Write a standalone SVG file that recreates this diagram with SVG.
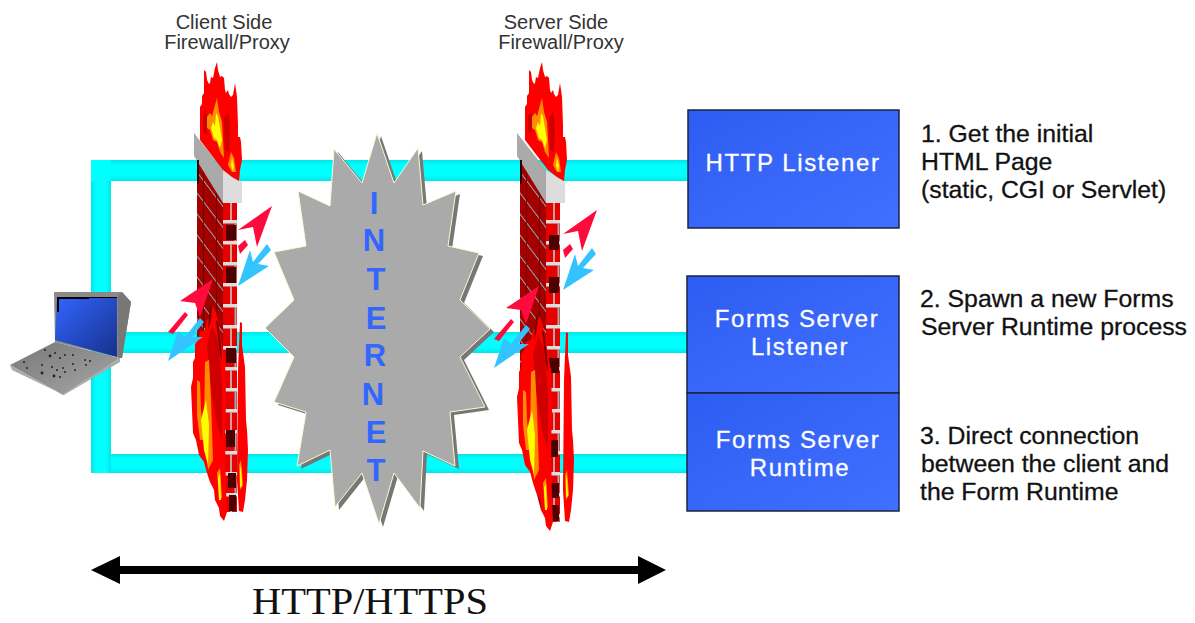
<svg xmlns="http://www.w3.org/2000/svg" width="1195" height="623" viewBox="0 0 1195 623">
<style>
.sans{font-family:"Liberation Sans",Arial,sans-serif}
.cap{font-size:20px;fill:#333;text-anchor:middle}
.note{font-size:24.8px;fill:#111;stroke:#111;stroke-width:.3px}
.lbl{font-size:24px;fill:#fff;text-anchor:middle;letter-spacing:1.6px;stroke:#fff;stroke-width:.3px}
.box{fill:url(#boxg);stroke:#1c2440;stroke-width:1.5}
.red{fill:#f00}.dred{fill:#d00000}.org{fill:#ff8c00}.yel{fill:#ff0}
.ra{fill:#ff0a3c}.ba{fill:#33c4ff}
</style>
<defs>
<linearGradient id="hbar" x1="0" y1="0" x2="0" y2="1"><stop offset="0" stop-color="#00e6e6"/><stop offset=".25" stop-color="#0ff"/><stop offset=".75" stop-color="#0ff"/><stop offset="1" stop-color="#00e6e6"/></linearGradient>
<linearGradient id="vbar" x1="0" y1="0" x2="1" y2="0"><stop offset="0" stop-color="#00e6e6"/><stop offset=".25" stop-color="#0ff"/><stop offset=".75" stop-color="#0ff"/><stop offset="1" stop-color="#00e6e6"/></linearGradient>
<linearGradient id="boxg" x1="0" y1="0" x2="1" y2="1"><stop offset="0" stop-color="#2e5cf2"/><stop offset="1" stop-color="#4070ff"/></linearGradient>
<linearGradient id="scr" x1="0" y1="0" x2="1" y2="1"><stop offset="0" stop-color="#3366ff"/><stop offset="1" stop-color="#16308c"/></linearGradient>
<linearGradient id="kbd" x1="0" y1="0" x2="1" y2="1"><stop offset="0" stop-color="#777"/><stop offset="1" stop-color="#a8a8a8"/></linearGradient>
<pattern id="front" patternUnits="userSpaceOnUse" x="223" y="199" width="14" height="42">
<rect width="14" height="42" fill="#e60000"/><rect y="0" width="14" height="3.5" fill="#ddd"/><rect y="21" width="14" height="3.5" fill="#ddd"/>
<rect x="7" y="3" width="2" height="18" fill="#c8a0a0"/><rect x="11.5" y="24" width="2" height="18" fill="#aaa"/>
</pattern>
<pattern id="side" patternUnits="userSpaceOnUse" width="13" height="21" patternTransform="translate(197 150) skewY(53)">
<rect width="13" height="21" fill="#a50000"/><rect width="13" height="2" fill="#8c8c8c"/><rect x="6" width="1" height="21" fill="#6e0000"/>
</pattern>
<g id="cap">
<polygon points="194,133 223,170 223,203 194,156" fill="#aaa"/>
<polygon points="223,170 242,182 242,203 223,203" fill="#ddd"/>
<rect x="197" y="160" width="2" height="24" fill="#300"/>
</g>
<g id="flameTop">
<polygon class="red" points="200,140 200,107 202,104 202,96 204,93 204,70 206,72 207,80 209,84 210,83 211,77 213,78 215,68 217,62 218,70 220,77 222,76 224,78 225,90 226,93 228,90 229,94 231,97 233,95 235,83 236,90 237,97 238,125 238,137 240,137 241,142 242,160 240,170 239,181 232,177 223,170"/>
<polygon class="dred" points="203,116 206,110 208,125 206,135 203,130"/>
<polygon class="dred" points="224,118 228,112 230,125 229,152 225,150"/>
<polygon class="org" points="207,117 210,113 212,116 215,105 217,98 219,112 222,122 223,140 224,158 220,152 217,142 213,140 210,130 207,128"/>
<polygon class="yel" points="211,128 213,122 215,126 216,113 218,116 220,128 222,140 220,148 217,140 214,138"/>
<polygon class="org" points="228,165 231,152 234,158 236,172 232,172"/>
<polygon class="yel" points="231,165 232,158 234,166 233,172"/>
</g>
<g id="flameLow">
<polygon class="red" points="213,306 210,318 207,320 205,330 200,332 198,340 195,344 195,358 193,362 193,378 191,387 192,410 193,433 196,440 199,455 204,462 207,473 210,482 214,490 215,500 219,508 220,516 224,521 227,512 226,490 225,440 226,400 225,360 222,345 219,325 216,312"/>
<polygon class="red" points="238,370 240,322 242,323 242,345 245,367 246,420 247,430 248,450 247,480 245,500 243,512 239,511 237,480"/>
<polygon class="dred" points="207,345 212,325 218,340 222,380 222,440 216,420 210,380"/>
<polygon fill="#700" points="216,320 218,322 221,345 222,362 220,355"/>
<polygon fill="#700" points="210,305 212,306 211,320 208,330"/>
<polygon class="org" points="197,380 200,382 201,410 204,440 200,440 197,415"/>
<polygon class="org" points="205,362 209,360 211,400 213,460 208,470 204,430"/>
<polygon class="yel" points="201,420 206,400 209,425 208,465 204,450"/>
<polygon class="org" points="217,473 220,468 222,498 219,498"/>
<polygon class="yel" points="218,478 220,473 221,500 219,500"/>
<polygon class="org" points="239,465 241,460 243,485 240,490"/>
<polygon class="yel" points="240,470 241,465 242,486 240,488"/>
</g>
<g id="darks" fill="#4d0000">
<rect x="226" y="225" width="10" height="15"/><rect x="226" y="267" width="10" height="16"/><rect x="226" y="348" width="10" height="15"/><rect x="226" y="430" width="9" height="17"/><rect x="228" y="473" width="8" height="15"/><rect x="229" y="495" width="7" height="16"/>
</g>
<g id="arrowsUp">
<polygon class="ra" points="272,206 257,247 253,227 238,230"/>
<polygon class="ra" points="245,240 248,245 240,254 238,246"/>
<polygon class="ba" points="238,286 250,250 253,262 267,244 271,250 258,264 269,266"/>
</g>
<g id="arrowsLow">
<polygon class="ra" points="213,279 200,317 195,303 180,301"/>
<polygon class="ra" points="185,312 188,315 173,334 168,332"/>
<polygon class="ba" points="168,361 178,331 185,337 200,318 204,322 192,337 203,337"/>
</g>
</defs>
<rect width="1195" height="623" fill="#fff"/>
<g id="connectors">
<rect x="91" y="160" width="597" height="21" fill="url(#hbar)"/>
<rect x="120" y="332" width="568" height="21" fill="url(#hbar)"/>
<rect x="91" y="454" width="597" height="19" fill="url(#hbar)"/>
<rect x="91" y="160" width="20" height="313" fill="url(#vbar)"/>
<rect x="91" y="160" width="20" height="21" fill="#0ff"/>
<path d="M116 570H642" stroke="#000" stroke-width="8" fill="none"/>
<polygon points="91,570 120,556 120,584"/>
<polygon points="666,570 638,556 638,584"/>
</g>
<g id="internet">
<polygon transform="translate(4 3)" fill="#777" points="377,133 394,183 418,148 423,205 456,191 448,246 479,253 460,300 490,329 460,357 485,407 450,412 455,466 423,451 420,508 394,473 379,524 362,473 335,507 330,450 297,466 306,412 274,402 294,357 265,328 294,300 274,252 306,246 298,191 330,206 334,149 362,183"/>
<polygon fill="#aaa" stroke="#fbfbd0" stroke-width="1" points="377,133 394,183 418,148 423,205 456,191 448,246 479,253 460,300 490,329 460,357 485,407 450,412 455,466 423,451 420,508 394,473 379,524 362,473 335,507 330,450 297,466 306,412 274,402 294,357 265,328 294,300 274,252 306,246 298,191 330,206 334,149 362,183"/>
<text class="sans" font-size="31" font-weight="700" fill="#3366ff" text-anchor="middle"><tspan x="374" y="214">I</tspan><tspan x="374" y="251">N</tspan><tspan x="376" y="290">T</tspan><tspan x="376" y="329">E</tspan><tspan x="375" y="366">R</tspan><tspan x="373" y="405">N</tspan><tspan x="376" y="443">E</tspan><tspan x="376" y="481">T</tspan></text>
</g>
<g id="firewall-client">
<polygon points="197,155 223,190 223,505 218,500 197,420" fill="url(#side)"/>
<rect x="225" y="199" width="12" height="313" fill="#ddd"/>
<rect x="223" y="199" width="14" height="313" fill="url(#front)"/>
<use href="#darks"/><use href="#cap"/><use href="#flameTop"/><use href="#flameLow"/>
<use href="#arrowsUp"/><use href="#arrowsLow"/>
<text class="sans cap" x="224" y="29">Client Side</text>
<text class="sans cap" x="227" y="49">Firewall/Proxy</text>
</g>
<g id="firewall-server">
<g transform="translate(323 0)">
<polygon points="197,155 223,190 223,515 218,510 197,430" fill="url(#side)"/>
<rect x="223" y="199" width="14" height="323" fill="url(#front)"/>
<use href="#darks" transform="translate(0 10)"/><use href="#cap"/>
</g>
<use href="#flameTop" transform="translate(325 0)"/>
<use href="#flameLow" transform="translate(326 10)"/>
<use href="#arrowsUp" transform="translate(325 4)"/><use href="#arrowsLow" transform="translate(326 7)"/>
<text class="sans cap" x="556" y="29">Server Side</text>
<text class="sans cap" x="561" y="49">Firewall/Proxy</text>
</g>
<g id="laptop">
<polygon points="54,292 122,292 131,302 122,358 55,342" fill="#8a8a8a"/>
<polygon points="122,292 131,302 122,358 118,358 118,296" fill="#777"/>
<polygon points="57,297 117,297 117,357 55,340" fill="url(#scr)"/>
<path d="M57 297H117V298H89V299H59V312H57Z" fill="#000"/>
<polygon points="55,342 10,365 63,395 120,358" fill="url(#kbd)"/>
<polygon points="10,365 63,395 120,358 120,362 64,395 12,370" fill="#aaa"/>
<g fill="#222"><circle cx="45" cy="350" r="1"/><circle cx="50" cy="356" r="1.4"/><circle cx="55" cy="353" r="1"/><circle cx="60" cy="358" r="1"/><circle cx="65" cy="355" r="1"/><circle cx="73" cy="355" r="1"/><circle cx="24" cy="362" r="1"/><circle cx="27" cy="368" r="1"/><circle cx="42" cy="365" r="1"/><circle cx="52" cy="367" r="1"/><circle cx="57" cy="370" r="1"/><circle cx="63" cy="368" r="1"/><circle cx="73" cy="364" r="1"/><circle cx="85" cy="360" r="1"/><circle cx="90" cy="361" r="1"/><circle cx="42" cy="373" r="1.4"/><circle cx="54" cy="376" r="1.4"/><circle cx="60" cy="377" r="1"/><circle cx="65" cy="372" r="1"/><circle cx="75" cy="370" r="1"/><circle cx="86" cy="365" r="1"/></g>
</g>
<g id="http-listener">
<rect class="box" x="688" y="110" width="211" height="118"/>
<text class="sans lbl" x="793" y="171">HTTP Listener</text>
<text class="sans note" x="921" y="142">1. Get the initial</text>
<text class="sans note" x="921" y="170">HTML Page</text>
<text class="sans note" x="921" y="198">(static, CGI or Servlet)</text>
</g>
<g id="forms-listener">
<rect class="box" x="687" y="276" width="212" height="117"/>
<text class="sans lbl" x="797" y="327">Forms Server</text>
<text class="sans lbl" x="800" y="355">Listener</text>
<text class="sans note" x="920" y="307">2. Spawn a new Forms</text>
<text class="sans note" x="921" y="335">Server Runtime process</text>
</g>
<g id="forms-runtime">
<rect class="box" x="687" y="393" width="212" height="118"/>
<text class="sans lbl" x="798" y="448">Forms Server</text>
<text class="sans lbl" x="800" y="476">Runtime</text>
<text class="sans note" x="920" y="444">3. Direct connection</text>
<text class="sans note" x="921" y="472">between the client and</text>
<text class="sans note" x="920" y="500">the Form Runtime</text>
</g>
<text x="252" y="614" font-family="Liberation Serif,Times New Roman,serif" font-size="38" fill="#111" textLength="236" lengthAdjust="spacingAndGlyphs">HTTP/HTTPS</text>
</svg>
